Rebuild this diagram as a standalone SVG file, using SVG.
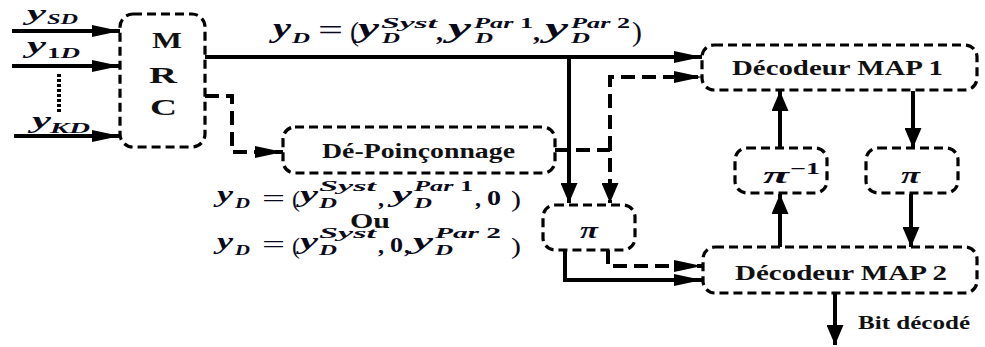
<svg xmlns="http://www.w3.org/2000/svg" width="985" height="347" viewBox="0 0 985 347">
<defs>
<style>
.box{fill:#fff;stroke:#000;stroke-width:3.2;stroke-dasharray:9 5}
.sol{fill:none;stroke:#000;stroke-width:4}
.dsh{fill:none;stroke:#000;stroke-width:4;stroke-dasharray:14 7}
.nt{font-family:"Liberation Serif","Times New Roman",serif;font-weight:bold;fill:#111}
.mi{font-family:"Liberation Serif","Times New Roman",serif;font-weight:bold;font-style:italic;fill:#0a0a1a}
.mu{font-family:"Liberation Serif","Times New Roman",serif;font-weight:bold;fill:#0a0a1a}
.mr{font-family:"Liberation Serif","Times New Roman",serif;font-weight:normal;fill:#0a0a1a}
</style>
<marker id="ah" viewBox="0 0 28 12" refX="28" refY="6" markerWidth="28" markerHeight="12" markerUnits="userSpaceOnUse" orient="auto"><path d="M0,0 L28,6 L0,12 Z" fill="#000"/></marker>
<marker id="av" viewBox="0 0 20 17" refX="20" refY="8.5" markerWidth="20" markerHeight="17" markerUnits="userSpaceOnUse" orient="auto"><path d="M0,0 L20,8.5 L0,17 Z" fill="#000"/></marker>
</defs>
<rect width="985" height="347" fill="#fff"/>

<g id="connectors">
<path class="sol" d="M12,31 H120" marker-end="url(#ah)"/>
<path class="sol" d="M12,66 H120" marker-end="url(#ah)"/>
<path class="sol" d="M14,136 H120" marker-end="url(#ah)"/>
<path d="M59,74 V113" fill="none" stroke="#000" stroke-width="4" stroke-dasharray="3 2"/>
<path class="sol" d="M205,57 H702" marker-end="url(#ah)"/>
<path class="sol" d="M569,57 V203" marker-end="url(#av)"/>
<path class="dsh" d="M205,96 H232 V152 H283" marker-end="url(#ah)"/>
<path class="dsh" d="M555,150 H610 V203" marker-end="url(#av)"/>
<path class="dsh" d="M610,150 V77 H702" marker-end="url(#ah)"/>
<path class="sol" d="M565,250 V280 H702" marker-end="url(#ah)"/>
<path class="dsh" d="M608,250 V266 H702" marker-end="url(#ah)"/>
<path class="sol" d="M780,148 V91" marker-end="url(#av)"/>
<path class="sol" d="M780,247 V194" marker-end="url(#av)"/>
<path class="sol" d="M913,91 V148" marker-end="url(#av)"/>
<path class="sol" d="M911,194 V247" marker-end="url(#av)"/>
<path class="sol" d="M835,293 V345" marker-end="url(#av)"/>
</g>

<g id="mrc">
<rect class="box" x="120" y="14" width="85" height="133" rx="13"/>
<text class="nt" x="152" y="48" font-size="23" textLength="30" lengthAdjust="spacingAndGlyphs">M</text>
<text class="nt" x="149" y="83" font-size="23" textLength="28" lengthAdjust="spacingAndGlyphs">R</text>
<text class="nt" x="150" y="115" font-size="23" textLength="27" lengthAdjust="spacingAndGlyphs">C</text>
</g>

<g id="depoinconnage">
<rect class="box" x="283" y="127" width="272" height="46" rx="12"/>
<text class="nt" x="322" y="158" font-size="20" textLength="193" lengthAdjust="spacingAndGlyphs">Dé-Poinçonnage</text>
</g>

<g id="pi1">
<rect class="box" x="543" y="205" width="92" height="45" rx="12"/>
<text class="mi" x="580" y="238" font-size="24" textLength="18" lengthAdjust="spacingAndGlyphs">π</text>
</g>

<g id="map1">
<rect class="box" x="702" y="45" width="275" height="45" rx="12"/>
<text class="nt" x="732" y="75" font-size="20" textLength="211" lengthAdjust="spacingAndGlyphs">Décodeur MAP 1</text>
</g>

<g id="map2">
<rect class="box" x="703" y="247" width="274" height="46" rx="12"/>
<text class="nt" x="735" y="280" font-size="20" textLength="212" lengthAdjust="spacingAndGlyphs">Décodeur MAP 2</text>
</g>

<g id="piinv">
<rect class="box" x="735" y="148" width="92" height="45" rx="12"/>
<text class="mi" x="763" y="183" font-size="24" textLength="26" lengthAdjust="spacingAndGlyphs">π</text>
<text class="mu" x="790" y="174" font-size="16" textLength="30" lengthAdjust="spacingAndGlyphs">−1</text>
</g>

<g id="pi2">
<rect class="box" x="866" y="148" width="92" height="45" rx="12"/>
<text class="mi" x="901" y="183" font-size="24" textLength="19" lengthAdjust="spacingAndGlyphs">π</text>
</g>

<g id="labels">
<text class="nt" x="858" y="329" font-size="19" textLength="112" lengthAdjust="spacingAndGlyphs">Bit décodé</text>

<text class="mi" x="27" y="20" font-size="22" textLength="19" lengthAdjust="spacingAndGlyphs">y</text>
<text class="mi" x="47" y="24" font-size="15" textLength="31" lengthAdjust="spacingAndGlyphs">SD</text>
<text class="mi" x="27" y="53" font-size="24" textLength="19" lengthAdjust="spacingAndGlyphs">y</text>
<text x="47" y="58" font-size="15" textLength="33" lengthAdjust="spacingAndGlyphs"><tspan class="mu">1</tspan><tspan class="mi">D</tspan></text>
<text class="mi" x="32" y="128" font-size="24" textLength="19" lengthAdjust="spacingAndGlyphs">y</text>
<text class="mi" x="50" y="133" font-size="15" textLength="40" lengthAdjust="spacingAndGlyphs">KD</text>

<!-- formula 1 -->
<text class="mi" x="273" y="37" font-size="28" textLength="18" lengthAdjust="spacingAndGlyphs">y</text>
<text class="mi" x="292" y="43" font-size="15" textLength="18" lengthAdjust="spacingAndGlyphs">D</text>
<text class="mr" x="318" y="40" font-size="30" textLength="25" lengthAdjust="spacingAndGlyphs">=</text>
<text class="mr" x="350" y="41" font-size="28" textLength="9" lengthAdjust="spacingAndGlyphs">(</text>
<text class="mi" x="358" y="37" font-size="28" textLength="21" lengthAdjust="spacingAndGlyphs">y</text>
<text class="mi" x="381" y="28" font-size="15" textLength="56" lengthAdjust="spacingAndGlyphs">Syst</text>
<text class="mi" x="382" y="43" font-size="15" textLength="18" lengthAdjust="spacingAndGlyphs">D</text>
<text class="mu" x="436" y="40" font-size="24" textLength="7" lengthAdjust="spacingAndGlyphs">,</text>
<text class="mi" x="448" y="37" font-size="28" textLength="23" lengthAdjust="spacingAndGlyphs">y</text>
<text x="474" y="28" font-size="15" textLength="59" lengthAdjust="spacingAndGlyphs"><tspan class="mi">Par</tspan><tspan class="mu"> 1</tspan></text>
<text class="mi" x="475" y="43" font-size="15" textLength="18" lengthAdjust="spacingAndGlyphs">D</text>
<text class="mu" x="533" y="40" font-size="24" textLength="7" lengthAdjust="spacingAndGlyphs">,</text>
<text class="mi" x="545" y="37" font-size="28" textLength="23" lengthAdjust="spacingAndGlyphs">y</text>
<text x="571" y="28" font-size="15" textLength="59" lengthAdjust="spacingAndGlyphs"><tspan class="mi">Par</tspan><tspan class="mu"> 2</tspan></text>
<text class="mi" x="571" y="43" font-size="15" textLength="19" lengthAdjust="spacingAndGlyphs">D</text>
<text class="mr" x="632" y="41" font-size="28" textLength="10" lengthAdjust="spacingAndGlyphs">)</text>

<!-- formula 2 -->
<text class="mi" x="217" y="202" font-size="24" textLength="16" lengthAdjust="spacingAndGlyphs">y</text>
<text class="mi" x="235" y="208" font-size="14" textLength="15" lengthAdjust="spacingAndGlyphs">D</text>
<text class="mr" x="262" y="207" font-size="26" textLength="23" lengthAdjust="spacingAndGlyphs">=</text>
<text class="mr" x="292" y="207" font-size="24" textLength="8" lengthAdjust="spacingAndGlyphs">(</text>
<text class="mi" x="300" y="202" font-size="24" textLength="18" lengthAdjust="spacingAndGlyphs">y</text>
<text class="mi" x="319" y="191" font-size="14" textLength="57" lengthAdjust="spacingAndGlyphs">Syst</text>
<text class="mi" x="319" y="208" font-size="14" textLength="18" lengthAdjust="spacingAndGlyphs">D</text>
<text class="mu" x="378" y="206" font-size="22" textLength="6" lengthAdjust="spacingAndGlyphs">,</text>
<text class="mi" x="392" y="202" font-size="24" textLength="20" lengthAdjust="spacingAndGlyphs">y</text>
<text x="414" y="191" font-size="14" textLength="59" lengthAdjust="spacingAndGlyphs"><tspan class="mi">Par</tspan><tspan class="mu"> 1</tspan></text>
<text class="mi" x="414" y="208" font-size="14" textLength="18" lengthAdjust="spacingAndGlyphs">D</text>
<text class="mu" x="475" y="206" font-size="22" textLength="6" lengthAdjust="spacingAndGlyphs">,</text>
<text class="mu" x="487" y="205" font-size="21" textLength="14" lengthAdjust="spacingAndGlyphs">0</text>
<text class="mr" x="511" y="207" font-size="24" textLength="10" lengthAdjust="spacingAndGlyphs">)</text>

<text class="nt" x="350" y="228" font-size="20" textLength="40" lengthAdjust="spacingAndGlyphs">Ou</text>

<!-- formula 3 -->
<text class="mi" x="217" y="249" font-size="24" textLength="16" lengthAdjust="spacingAndGlyphs">y</text>
<text class="mi" x="235" y="255" font-size="14" textLength="15" lengthAdjust="spacingAndGlyphs">D</text>
<text class="mr" x="262" y="253" font-size="26" textLength="23" lengthAdjust="spacingAndGlyphs">=</text>
<text class="mr" x="292" y="254" font-size="24" textLength="8" lengthAdjust="spacingAndGlyphs">(</text>
<text class="mi" x="300" y="249" font-size="24" textLength="18" lengthAdjust="spacingAndGlyphs">y</text>
<text class="mi" x="319" y="238" font-size="14" textLength="57" lengthAdjust="spacingAndGlyphs">Syst</text>
<text class="mi" x="319" y="255" font-size="14" textLength="18" lengthAdjust="spacingAndGlyphs">D</text>
<text class="mu" x="378" y="253" font-size="22" textLength="6" lengthAdjust="spacingAndGlyphs">,</text>
<text class="mu" x="390" y="252" font-size="21" textLength="13" lengthAdjust="spacingAndGlyphs">0</text>
<text class="mu" x="404" y="253" font-size="22" textLength="6" lengthAdjust="spacingAndGlyphs">,</text>
<text class="mi" x="413" y="249" font-size="24" textLength="20" lengthAdjust="spacingAndGlyphs">y</text>
<text x="435" y="238" font-size="14" textLength="66" lengthAdjust="spacingAndGlyphs"><tspan class="mi">Par</tspan><tspan class="mu"> 2</tspan></text>
<text class="mi" x="435" y="255" font-size="14" textLength="18" lengthAdjust="spacingAndGlyphs">D</text>
<text class="mr" x="511" y="254" font-size="24" textLength="10" lengthAdjust="spacingAndGlyphs">)</text>
</g>
</svg>
